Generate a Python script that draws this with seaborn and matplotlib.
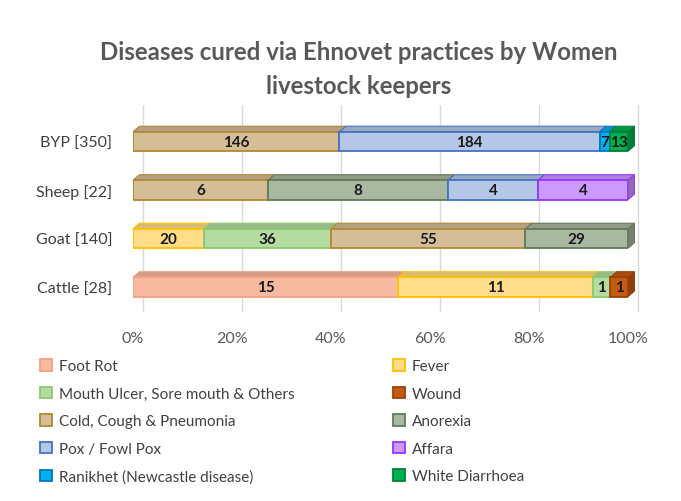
import numpy as np
import pandas as pd
import matplotlib
matplotlib.use("Agg")
import matplotlib.pyplot as plt
import seaborn as sns
from matplotlib.patches import Polygon, Patch
from matplotlib.colors import to_rgb

# ---------------- data ----------------
categories = ["BYP [350]", "Sheep [22]", "Goat [140]", "Cattle [28]"]
diseases = ["Foot Rot", "Fever", "Mouth Ulcer, Sore mouth & Others", "Wound",
            "Cold, Cough & Pneumonia", "Anorexia", "Pox / Fowl Pox", "Affara",
            "Ranikhet (Newcastle disease)", "White Diarrhoea"]
foot_rot        = [0,   0,  0, 15]
fever           = [0,   0, 20, 11]
mouth_ulcer     = [0,   0, 36,  1]
wound           = [0,   0,  0,  1]
cold_cough      = [146, 6, 55,  0]
anorexia        = [0,   8, 29,  0]
pox             = [184, 4,  0,  0]
affara          = [0,   4,  0,  0]
ranikhet        = [7,   0,  0,  0]
white_diarrhoea = [13,  0,  0,  0]
series = [foot_rot, fever, mouth_ulcer, wound, cold_cough, anorexia, pox,
          affara, ranikhet, white_diarrhoea]
x_ticks = [0, 20, 40, 60, 80, 100]
x_tick_labels = ["0%", "20%", "40%", "60%", "80%", "100%"]

fills = ["#F8B9A0", "#FFDD88", "#B4DCA0", "#C55A11", "#D5BD98", "#A9B8A0",
         "#B4C7E7", "#CC99FF", "#00B0F0", "#00B050"]
edges = ["#F4A080", "#FFC000", "#8CC870", "#9C4209", "#B0892E", "#627A55",
         "#4472C4", "#9933FF", "#0077C0", "#00803A"]

# ---------------- figure ----------------
sns.set_theme(style="white")
plt.rcParams["font.family"] = ["Lato", "DejaVu Sans"]

fig = plt.figure(figsize=(6.81, 5.02), dpi=100)
ax = fig.add_axes([0.1953, 0.378, 0.7269, 0.3864])

counts = np.array(series, dtype=float)          # shape (series, categories)
totals = counts.sum(axis=0)
pct = counts / totals * 100
lefts = np.vstack([np.zeros(len(categories)), np.cumsum(pct, axis=0)[:-1]])

depth_x = 1.3      # 3-D depth in x data units (%)
depth_y = 0.115    # 3-D depth in y data units

# background gridlines (back wall, slightly offset)
for t in x_ticks:
    ax.plot([t + depth_x * 1.6, t + depth_x * 1.6], [3.5, -0.75], color="#D9D9D9",
            lw=1.0, zorder=0, clip_on=False)

segments = []
for i, name in enumerate(diseases):
    mask = counts[i] > 0
    if not mask.any():
        continue
    df = pd.DataFrame({"category": np.array(categories)[mask],
                       "pct": pct[i][mask]})
    sns.barplot(data=df, x="pct", y="category", order=categories, orient="h",
                color=fills[i], saturation=1, width=0.4, ax=ax,
                left=lefts[i][mask], edgecolor=edges[i], linewidth=1.3, zorder=3)
    for c in np.where(mask)[0]:
        segments.append((i, c))

def shade(col, f):
    r, g, b = to_rgb(col)
    return (r * f, g * f, b * f)

# 3-D top faces and right side face, built from the data
for i, c in segments:
    x0 = lefts[i][c]
    x1 = x0 + pct[i][c]
    ytop = c - 0.2
    ybot = c + 0.2
    top = Polygon([(x0, ytop), (x1, ytop), (x1 + depth_x, ytop - depth_y),
                   (x0 + depth_x, ytop - depth_y)], closed=True,
                  facecolor=shade(fills[i], 0.85), edgecolor=edges[i], lw=0.8,
                  zorder=2, clip_on=False)
    ax.add_patch(top)
    if abs(x1 - 100) < 1e-6:
        side = Polygon([(x1, ytop), (x1 + depth_x, ytop - depth_y),
                        (x1 + depth_x, ybot - depth_y), (x1, ybot)], closed=True,
                       facecolor=shade(fills[i], 0.7), edgecolor=edges[i], lw=0.8,
                       zorder=2, clip_on=False)
        ax.add_patch(side)
    ax.text((x0 + x1) / 2, c + 0.01, f"{int(counts[i][c])}", ha="center", va="center",
            fontsize=11, fontweight="bold", color="#1A1A1A", zorder=5)

ax.set_xlim(0, 100)
ax.set_ylim(3.5, -0.5)
ax.set_xticks(x_ticks)
ax.set_xticklabels(x_tick_labels)
ax.set_xlabel("")
ax.set_ylabel("")
ax.tick_params(axis="y", length=0, pad=15, labelsize=11.5, labelcolor="#404040")
ax.tick_params(axis="x", length=0, pad=14, labelsize=11.5, labelcolor="#595959")
for s in ax.spines.values():
    s.set_visible(False)
ax.grid(False)
ax.set_facecolor("none")

# title
fig.text(0.527, 0.862, "Diseases cured via Ehnovet practices by Women\nlivestock keepers",
         ha="center", va="center", fontsize=17.3, fontweight="bold", color="#595959",
         linespacing=1.6)

# legend (row-major order like the reference)
handles = [Patch(facecolor=fills[i], edgecolor=edges[i], linewidth=1.3) for i in range(len(diseases))]
order = [0, 2, 4, 6, 8, 1, 3, 5, 7, 9]
leg = fig.legend([handles[k] for k in order], [diseases[k] for k in order],
                 ncol=2, loc="upper left", bbox_to_anchor=(0.059, 0.283),
                 frameon=False, fontsize=11, handlelength=0.8, handleheight=0.8,
                 handletextpad=0.45, labelspacing=0.88, columnspacing=6.4,
                 borderaxespad=0, borderpad=0)
for t in leg.get_texts():
    t.set_color("#404040")

fig.savefig("out.png", dpi=100, facecolor="white")
